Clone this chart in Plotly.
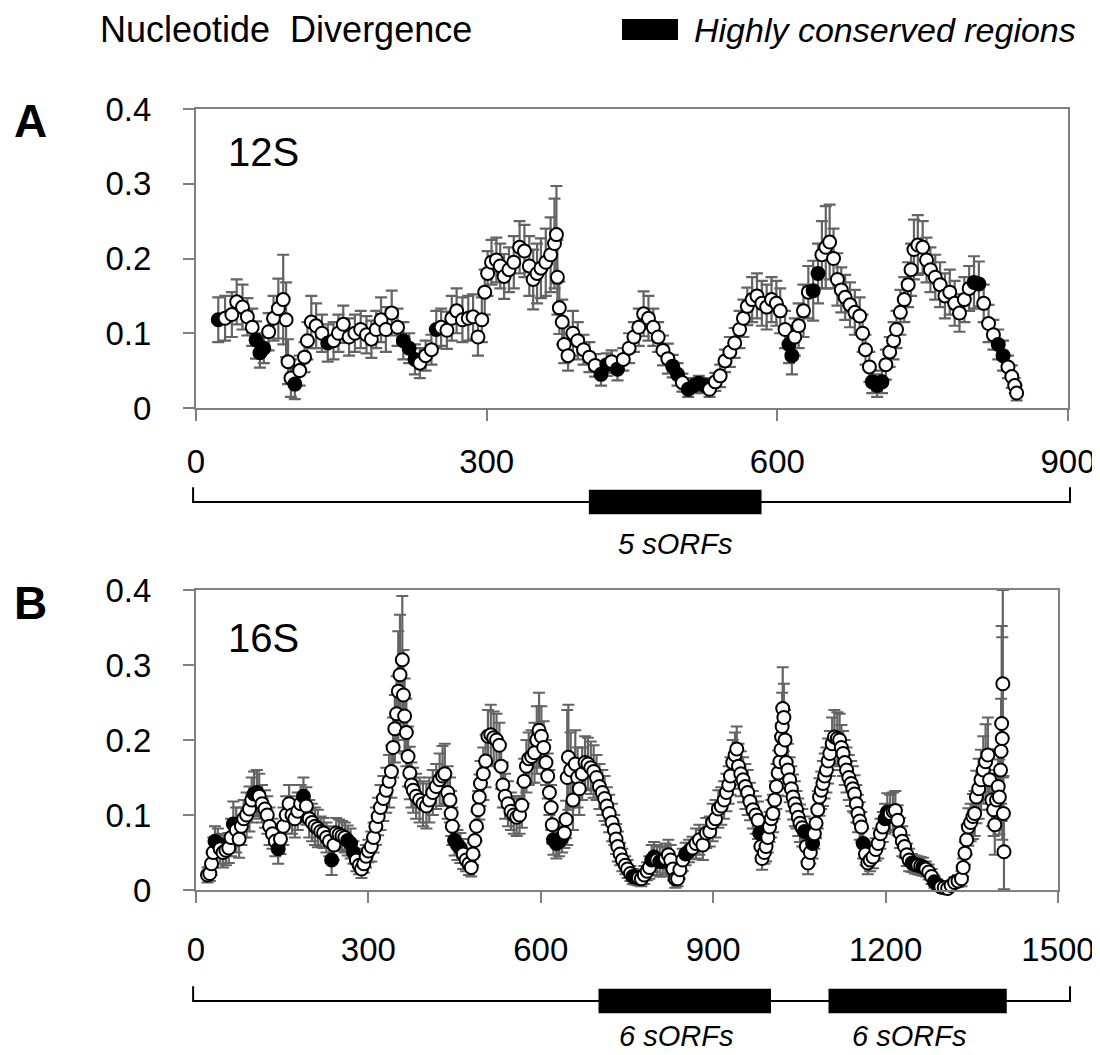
import plotly.graph_objects as go

# ---- 12S: sliding-window nucleotide divergence (position, value, error) ----
pos_12s = [23, 30, 37, 42, 48, 53, 58, 62, 66, 70,
           75, 80, 85, 90, 93, 95, 98, 102, 107, 112,
           115, 119, 124, 130, 136, 142, 147, 152, 158, 164,
           170, 176, 181, 186, 191, 196, 202, 208, 214, 220,
           226, 231, 237, 243, 248, 253, 259, 264, 269, 275,
           281, 286, 291, 295, 298, 301, 305, 310, 314, 318,
           323, 328, 334, 339, 344, 348, 352, 356, 361, 366,
           370, 372, 373, 375, 378, 380, 384, 389, 394, 400,
           406, 412, 418, 424, 429, 435, 441, 447, 452, 457,
           462, 467, 472, 477, 482, 487, 492, 497, 502, 508,
           514, 519, 525, 530, 536, 541, 546, 551, 556, 561,
           565, 569, 574, 579, 584, 589, 594, 599, 603, 608,
           612, 615, 618, 622, 627, 632, 637, 642, 646, 650,
           654, 658, 662, 666, 670, 675, 680, 685, 688, 691,
           695, 698, 703, 708, 712, 716, 720, 723, 727, 731,
           735, 738, 741, 745, 750, 754, 758, 763, 768, 773,
           778, 783, 788, 793, 798, 803, 808, 813, 818, 823,
           828, 833, 838, 842, 845, 847]
div_12s = [0.118, 0.12, 0.125, 0.142, 0.135, 0.122, 0.108, 0.091, 0.074, 0.08,
           0.102, 0.12, 0.133, 0.145, 0.118, 0.062, 0.04, 0.032, 0.05, 0.068,
           0.09, 0.115, 0.11, 0.1, 0.087, 0.09, 0.1, 0.112, 0.095, 0.1,
           0.105, 0.098, 0.092, 0.105, 0.118, 0.105, 0.127, 0.108, 0.09, 0.08,
           0.065, 0.06, 0.07, 0.078, 0.105, 0.108, 0.104, 0.12, 0.13, 0.118,
           0.12, 0.122, 0.095, 0.118, 0.155, 0.18, 0.195, 0.198, 0.19, 0.176,
           0.185, 0.195, 0.215, 0.21, 0.19, 0.172, 0.18, 0.187, 0.195, 0.205,
           0.22, 0.232, 0.175, 0.134, 0.115, 0.085, 0.07, 0.1, 0.09, 0.078,
           0.068, 0.057, 0.045, 0.058, 0.062, 0.052, 0.065, 0.08, 0.095, 0.108,
           0.126, 0.12, 0.108, 0.095, 0.077, 0.066, 0.056, 0.045, 0.034, 0.025,
           0.03, 0.033, 0.03, 0.025, 0.035, 0.043, 0.063, 0.075, 0.087, 0.105,
           0.12, 0.136, 0.145, 0.15, 0.14, 0.135, 0.145, 0.14, 0.13, 0.105,
           0.085, 0.07, 0.095, 0.11, 0.13, 0.155, 0.157, 0.18, 0.205, 0.215,
           0.222, 0.2, 0.172, 0.158, 0.148, 0.138, 0.128, 0.123, 0.1, 0.078,
           0.055, 0.035, 0.03, 0.035, 0.058, 0.075, 0.09, 0.105, 0.128, 0.145,
           0.165, 0.185, 0.212, 0.218, 0.215, 0.198, 0.185, 0.175, 0.165, 0.15,
           0.155, 0.14, 0.127, 0.145, 0.16, 0.168, 0.166, 0.14, 0.113, 0.098,
           0.085, 0.07, 0.055, 0.042, 0.03, 0.02]
err_12s = [0.03, 0.03, 0.03, 0.03, 0.03, 0.025, 0.025, 0.025, 0.02, 0.02,
           0.025, 0.03, 0.04, 0.06, 0.05, 0.03, 0.025, 0.02, 0.02, 0.02,
           0.025, 0.035, 0.03, 0.025, 0.025, 0.025, 0.025, 0.025, 0.025, 0.025,
           0.025, 0.025, 0.025, 0.025, 0.03, 0.03, 0.03, 0.025, 0.025, 0.02,
           0.02, 0.02, 0.02, 0.02, 0.025, 0.025, 0.025, 0.03, 0.03, 0.03,
           0.03, 0.03, 0.025, 0.03, 0.03, 0.03, 0.03, 0.03, 0.03, 0.03,
           0.03, 0.035, 0.035, 0.035, 0.04, 0.04, 0.04, 0.04, 0.045, 0.05,
           0.06, 0.065, 0.05, 0.035, 0.03, 0.025, 0.02, 0.03, 0.025, 0.02,
           0.02, 0.015, 0.015, 0.015, 0.015, 0.015, 0.015, 0.02, 0.02, 0.025,
           0.03, 0.03, 0.025, 0.02, 0.02, 0.02, 0.015, 0.015, 0.012, 0.01,
           0.01, 0.01, 0.01, 0.01, 0.012, 0.015, 0.015, 0.02, 0.02, 0.025,
           0.025, 0.025, 0.03, 0.03, 0.03, 0.03, 0.03, 0.03, 0.03, 0.025,
           0.025, 0.025, 0.025, 0.03, 0.035, 0.035, 0.04, 0.04, 0.045, 0.055,
           0.05, 0.04, 0.035, 0.03, 0.03, 0.03, 0.03, 0.025, 0.025, 0.02,
           0.02, 0.015, 0.015, 0.015, 0.02, 0.02, 0.025, 0.025, 0.03, 0.03,
           0.03, 0.035, 0.04, 0.04, 0.035, 0.03, 0.03, 0.03, 0.03, 0.03,
           0.03, 0.03, 0.025, 0.03, 0.03, 0.035, 0.03, 0.025, 0.025, 0.02,
           0.02, 0.02, 0.015, 0.015, 0.01, 0.01]
dark_12s = [23, 62, 66, 70, 102, 136, 214, 220, 226, 248, 418, 424, 435, 492, 497,
            508, 514, 519, 525, 612, 615, 637, 642, 698, 703, 708, 803, 808, 828, 833]

# ---- 16S ----
pos_16s = [20, 24, 27, 30, 33, 38, 42, 47, 52, 57,
           61, 65, 70, 75, 79, 83, 88, 93, 97, 101,
           106, 110, 115, 120, 124, 128, 133, 138, 143, 147,
           152, 157, 162, 167, 172, 177, 182, 187, 192, 197,
           202, 207, 212, 217, 222, 227, 232, 236, 240, 244,
           249, 254, 259, 264, 269, 274, 279, 284, 288, 292,
           296, 300, 305, 309, 313, 317, 321, 326, 331, 336,
           340, 343, 346, 349, 352, 355, 359, 361, 363, 366,
           369, 372, 375, 378, 383, 389, 395, 401, 406, 412,
           418, 424, 429, 433, 438, 442, 444, 446, 450, 455,
           460, 465, 470, 475, 479, 482, 485, 488, 491, 493,
           495, 500, 504, 508, 513, 518, 523, 528, 531, 534,
           538, 543, 548, 553, 558, 563, 567, 571, 575, 579,
           584, 589, 593, 597, 601, 605, 609, 612, 615, 618,
           620, 622, 627, 632, 637, 641, 644, 646, 648, 652,
           656, 660, 664, 667, 672, 677, 682, 687, 692, 697,
           702, 707, 711, 715, 719, 724, 728, 731, 734, 738,
           742, 747, 751, 756, 760, 765, 770, 775, 780, 785,
           789, 793, 797, 802, 807, 812, 817, 822, 826, 830,
           834, 838, 842, 847, 852, 858, 864, 870, 876, 882,
           888, 894, 899, 904, 909, 914, 919, 923, 927, 930,
           934, 938, 941, 944, 948, 952, 956, 960, 964, 969,
           974, 978, 981, 983, 985, 989, 992, 995, 998, 1001,
           1004, 1007, 1010, 1013, 1016, 1018, 1019, 1020, 1021, 1023,
           1025, 1027, 1030, 1033, 1036, 1039, 1042, 1045, 1048, 1051,
           1055, 1059, 1062, 1065, 1069, 1073, 1076, 1079, 1082, 1085,
           1088, 1091, 1094, 1097, 1100, 1103, 1107, 1111, 1116, 1120,
           1123, 1126, 1129, 1132, 1136, 1140, 1143, 1146, 1149, 1152,
           1155, 1158, 1161, 1165, 1169, 1173, 1178, 1183, 1187, 1191,
           1195, 1199, 1203, 1208, 1213, 1217, 1221, 1225, 1229, 1233,
           1237, 1241, 1246, 1251, 1256, 1261, 1265, 1270, 1275, 1280,
           1285, 1290, 1296, 1302, 1308, 1314, 1320, 1326, 1332, 1335,
           1338, 1341, 1344, 1348, 1352, 1355, 1358, 1362, 1366, 1370,
           1374, 1378, 1381, 1385, 1388, 1390, 1393, 1396, 1398, 1400,
           1401, 1402, 1403, 1404, 1405, 1406]
div_16s = [0.02, 0.022, 0.035, 0.05, 0.065, 0.062, 0.055, 0.05, 0.053, 0.056,
           0.07, 0.088, 0.08, 0.068, 0.085, 0.095, 0.1, 0.108, 0.12, 0.128,
           0.13, 0.125, 0.115, 0.108, 0.1, 0.085, 0.075, 0.065, 0.055, 0.068,
           0.085, 0.1, 0.115, 0.1, 0.095, 0.105, 0.115, 0.125, 0.112, 0.095,
           0.09, 0.085, 0.082, 0.078, 0.076, 0.07, 0.065, 0.04, 0.06, 0.076,
           0.074, 0.072, 0.07, 0.066, 0.062, 0.05, 0.04, 0.033, 0.028, 0.035,
           0.045, 0.052, 0.058, 0.07, 0.085, 0.098, 0.11, 0.122, 0.133, 0.145,
           0.158, 0.19, 0.215, 0.235, 0.265, 0.287, 0.307, 0.26, 0.232, 0.21,
           0.178, 0.156, 0.14, 0.133, 0.125, 0.12, 0.115, 0.112, 0.12, 0.13,
           0.138, 0.147, 0.152, 0.155, 0.13, 0.12, 0.102, 0.085, 0.066, 0.06,
           0.056, 0.048, 0.04, 0.035, 0.03, 0.048, 0.066, 0.085, 0.107, 0.124,
           0.142, 0.155, 0.172, 0.205, 0.207, 0.203, 0.2, 0.193, 0.165, 0.14,
           0.125, 0.115, 0.105, 0.1, 0.097, 0.1, 0.113, 0.145, 0.165, 0.175,
           0.178, 0.183, 0.2, 0.213, 0.205, 0.19, 0.17, 0.152, 0.13, 0.11,
           0.087, 0.067, 0.062, 0.065, 0.07, 0.076, 0.094, 0.15, 0.177, 0.16,
           0.12, 0.168, 0.15, 0.135, 0.155, 0.17, 0.168, 0.163, 0.158, 0.15,
           0.138, 0.13, 0.122, 0.112, 0.102, 0.09, 0.08, 0.068, 0.058, 0.048,
           0.04, 0.033, 0.028, 0.022, 0.018, 0.017, 0.016, 0.015, 0.02, 0.025,
           0.03, 0.04, 0.044, 0.04, 0.038, 0.038, 0.042, 0.047, 0.04, 0.028,
           0.015, 0.015, 0.027, 0.04, 0.048, 0.052, 0.056, 0.062, 0.067, 0.06,
           0.076, 0.078, 0.09, 0.095, 0.108, 0.112, 0.12, 0.13, 0.14, 0.152,
           0.17, 0.18, 0.188, 0.165, 0.155, 0.147, 0.138, 0.13, 0.118, 0.107,
           0.1, 0.093, 0.076, 0.058, 0.042, 0.05, 0.058, 0.07, 0.084, 0.095,
           0.102, 0.12, 0.138, 0.156, 0.171, 0.187, 0.204, 0.218, 0.242, 0.23,
           0.2, 0.17, 0.16, 0.147, 0.135, 0.124, 0.115, 0.107, 0.097, 0.089,
           0.083, 0.078, 0.058, 0.036, 0.05, 0.062, 0.075, 0.089, 0.107, 0.124,
           0.133, 0.142, 0.152, 0.16, 0.172, 0.182, 0.195, 0.204, 0.202, 0.2,
           0.19, 0.182, 0.17, 0.16, 0.15, 0.142, 0.135, 0.128, 0.115, 0.102,
           0.092, 0.084, 0.062, 0.048, 0.036, 0.04, 0.044, 0.054, 0.062, 0.075,
           0.084, 0.095, 0.104, 0.102, 0.105, 0.106, 0.093, 0.076, 0.065, 0.058,
           0.047, 0.04, 0.036, 0.034, 0.033, 0.032, 0.031, 0.028, 0.024, 0.018,
           0.011, 0.007, 0.004, 0.003, 0.002, 0.006, 0.01, 0.012, 0.015, 0.03,
           0.049, 0.067, 0.084, 0.09, 0.098, 0.102, 0.124, 0.135, 0.147, 0.16,
           0.171, 0.18, 0.147, 0.12, 0.107, 0.087, 0.12, 0.138, 0.124, 0.16,
           0.185, 0.222, 0.202, 0.275, 0.102, 0.051]
err_16s = [0.01, 0.01, 0.015, 0.02, 0.02, 0.02, 0.02, 0.02, 0.02, 0.02,
           0.025, 0.03, 0.03, 0.025, 0.025, 0.025, 0.03, 0.03, 0.03, 0.03,
           0.03, 0.03, 0.025, 0.025, 0.025, 0.025, 0.02, 0.02, 0.02, 0.02,
           0.025, 0.025, 0.025, 0.025, 0.025, 0.025, 0.025, 0.025, 0.025, 0.025,
           0.025, 0.025, 0.025, 0.02, 0.02, 0.02, 0.02, 0.02, 0.02, 0.02,
           0.02, 0.02, 0.02, 0.02, 0.02, 0.015, 0.015, 0.012, 0.012, 0.012,
           0.015, 0.015, 0.02, 0.02, 0.025, 0.025, 0.03, 0.03, 0.03, 0.035,
           0.035, 0.04, 0.045, 0.05, 0.08, 0.08, 0.085, 0.06, 0.05, 0.045,
           0.04, 0.035, 0.03, 0.03, 0.03, 0.03, 0.03, 0.03, 0.03, 0.03,
           0.03, 0.035, 0.04, 0.04, 0.035, 0.03, 0.03, 0.025, 0.02, 0.02,
           0.02, 0.02, 0.015, 0.015, 0.012, 0.015, 0.02, 0.02, 0.025, 0.03,
           0.03, 0.035, 0.035, 0.035, 0.04, 0.035, 0.035, 0.03, 0.03, 0.03,
           0.03, 0.03, 0.025, 0.025, 0.025, 0.025, 0.03, 0.03, 0.035, 0.035,
           0.035, 0.04, 0.045, 0.05, 0.04, 0.035, 0.03, 0.03, 0.03, 0.03,
           0.025, 0.02, 0.02, 0.02, 0.02, 0.02, 0.025, 0.09, 0.07, 0.05,
           0.04, 0.045, 0.04, 0.035, 0.035, 0.035, 0.035, 0.035, 0.035, 0.03,
           0.03, 0.03, 0.03, 0.025, 0.025, 0.025, 0.02, 0.02, 0.02, 0.015,
           0.015, 0.012, 0.012, 0.01, 0.01, 0.01, 0.01, 0.01, 0.012, 0.012,
           0.015, 0.02, 0.02, 0.02, 0.02, 0.02, 0.02, 0.02, 0.02, 0.015,
           0.012, 0.01, 0.012, 0.015, 0.015, 0.015, 0.015, 0.02, 0.02, 0.02,
           0.02, 0.02, 0.025, 0.025, 0.025, 0.025, 0.025, 0.025, 0.025, 0.025,
           0.03, 0.03, 0.03, 0.03, 0.03, 0.03, 0.03, 0.03, 0.025, 0.025,
           0.025, 0.025, 0.02, 0.02, 0.015, 0.015, 0.02, 0.02, 0.02, 0.025,
           0.025, 0.025, 0.03, 0.03, 0.035, 0.035, 0.04, 0.045, 0.055, 0.045,
           0.04, 0.035, 0.035, 0.03, 0.03, 0.03, 0.03, 0.025, 0.025, 0.025,
           0.025, 0.02, 0.02, 0.015, 0.015, 0.02, 0.02, 0.02, 0.025, 0.025,
           0.025, 0.03, 0.03, 0.03, 0.03, 0.03, 0.035, 0.036, 0.035, 0.035,
           0.03, 0.03, 0.03, 0.03, 0.03, 0.03, 0.03, 0.025, 0.025, 0.025,
           0.025, 0.02, 0.02, 0.015, 0.015, 0.015, 0.015, 0.015, 0.02, 0.02,
           0.02, 0.02, 0.025, 0.025, 0.025, 0.026, 0.02, 0.02, 0.02, 0.015,
           0.015, 0.015, 0.012, 0.012, 0.012, 0.012, 0.012, 0.01, 0.01, 0.01,
           0.008, 0.007, 0.006, 0.005, 0.005, 0.006, 0.007, 0.008, 0.01, 0.012,
           0.015, 0.02, 0.025, 0.025, 0.03, 0.03, 0.035, 0.04, 0.04, 0.045,
           0.05, 0.05, 0.04, 0.035, 0.035, 0.04, 0.04, 0.05, 0.05, 0.06,
           0.07, 0.13, 0.135, 0.125, 0.05, 0.05]
dark_16s = [33, 38, 65, 101, 106, 143, 187, 236, 264, 269, 274, 450, 455, 460,
            622, 627, 632, 637, 760, 765, 793, 797, 807, 812, 852, 858, 981,
            1059, 1073, 1161, 1199, 1203, 1246, 1251, 1265, 1285, 1290]

# ---- gene maps: line extent and highly conserved regions (start, end, label) ----
gene_12s = [-3, 901]
hcr_12s = [(405, 583, "5 sORFs")]
gene_16s = [-5, 1520]
hcr_16s = [(700, 1000, "6 sORFs"), (1100, 1410, "6 sORFs")]

FONT = "Liberation Sans, Arial, sans-serif"
H = 1055
W = 1100
OFF = 8  # page body margin, positions below are in window pixels


def py(px):
    return 1 - (px - OFF) / H


def px_x(px):
    return (px - OFF) / W


fig = go.Figure()


def add_series(pos, div, err, dark, xa, ya):
    colors = ["black" if p in dark else "white" for p in pos]
    fig.add_trace(go.Scatter(
        x=pos, y=div, mode="markers", xaxis=xa, yaxis=ya,
        marker=dict(size=13, color=colors, line=dict(color="black", width=2)),
        error_y=dict(type="data", array=err, visible=True,
                     color="rgb(100,100,100)", thickness=2.2, width=6),
        cliponaxis=False, showlegend=False, hoverinfo="skip"))


add_series(pos_12s, div_12s, err_12s, dark_12s, "x", "y")
add_series(pos_16s, div_16s, err_16s, dark_16s, "x2", "y2")


def add_gene(gene, regions, xa, ya, label_y, label_shift):
    fig.add_trace(go.Scatter(
        x=[gene[0], gene[0], gene[1], gene[1]], y=[0.55, 0, 0, 0.55],
        mode="lines", xaxis=xa, yaxis=ya, line=dict(color="black", width=2),
        showlegend=False, hoverinfo="skip"))
    for start, end, label in regions:
        fig.add_shape(type="rect", xref=xa, yref=ya, x0=start, x1=end,
                      y0=-0.45, y1=0.45, fillcolor="black", line=dict(width=0))
        fig.add_annotation(x=(start + end) / 2, y=py(label_y), xref=xa, yref="paper",
                           text="<i>%s</i>" % label, showarrow=False,
                           xanchor="center", yanchor="middle", xshift=label_shift,
                           font=dict(size=29, family=FONT, color="black"))


add_gene(gene_12s, hcr_12s, "x3", "y3", 544, 0)
add_gene(gene_16s, hcr_16s, "x4", "y4", 1036, -9)

frame = dict(showline=True, mirror=True, linecolor="#808080", linewidth=2,
             ticks="outside", ticklen=11, tickwidth=2, tickcolor="#808080",
             showgrid=False, zeroline=False, automargin=False,
             tickfont=dict(size=33, family=FONT, color="black"))
ytick = dict(range=[0, 0.4], tickvals=[0, 0.1, 0.2, 0.3, 0.4],
             ticktext=["0", "0.1", "0.2", "0.3", "0.4"], ticklabelstandoff=25)
hidden = dict(visible=False, showgrid=False, zeroline=False, automargin=False)

fig.update_layout(
    template="none",
    width=W, height=H, margin=dict(l=0, r=0, t=0, b=0, pad=0),
    paper_bgcolor="white", plot_bgcolor="white",
    font=dict(family=FONT, color="black"),
    xaxis=dict(frame, domain=[px_x(196), px_x(1068)], range=[0, 900],
               tickvals=[0, 300, 600, 900], anchor="y", ticklabelstandoff=12),
    yaxis=dict(frame, domain=[py(408), py(109)], anchor="x", **ytick),
    xaxis2=dict(frame, domain=[px_x(196), px_x(1058)], range=[0, 1500],
                tickvals=[0, 300, 600, 900, 1200, 1500], anchor="y2", ticklabelstandoff=18),
    yaxis2=dict(frame, domain=[py(890), py(590)], anchor="x2", **ytick),
    xaxis3=dict(hidden, domain=[px_x(190), px_x(1076)], range=[-6.19, 907.2], anchor="y3"),
    yaxis3=dict(hidden, domain=[py(529), py(475)], range=[-1, 1], anchor="x3"),
    xaxis4=dict(hidden, domain=[px_x(190), px_x(1076)], range=[-10.43, 1530.4], anchor="y4"),
    yaxis4=dict(hidden, domain=[py(1028), py(974)], range=[-1, 1], anchor="x4"),
)

# header legend
fig.add_shape(type="rect", xref="paper", yref="paper",
              x0=px_x(622), x1=px_x(678), y0=py(40), y1=py(19),
              fillcolor="black", line=dict(width=0))
fig.add_annotation(x=px_x(98), y=py(30), xref="paper", yref="paper",
                   text="Nucleotide  Divergence", showarrow=False,
                   xanchor="left", yanchor="middle",
                   font=dict(size=36, family=FONT, color="black"))
fig.add_annotation(x=px_x(692), y=py(30), xref="paper", yref="paper",
                   text="<i>Highly conserved regions</i>", showarrow=False,
                   xanchor="left", yanchor="middle",
                   font=dict(size=34, family=FONT, color="black"))

# panel letters and gene names
for letter, yc in [("A", 121), ("B", 603)]:
    fig.add_annotation(x=px_x(30), y=py(yc), xref="paper", yref="paper",
                       text="<b>%s</b>" % letter, showarrow=False,
                       xanchor="center", yanchor="middle",
                       font=dict(size=46, family=FONT, color="black"))
for name, yc in [("12S", 152), ("16S", 638)]:
    fig.add_annotation(x=px_x(263), y=py(yc), xref="paper", yref="paper",
                       text=name, showarrow=False,
                       xanchor="center", yanchor="middle",
                       font=dict(size=40, family=FONT, color="black"))

fig.write_html("out.html")
